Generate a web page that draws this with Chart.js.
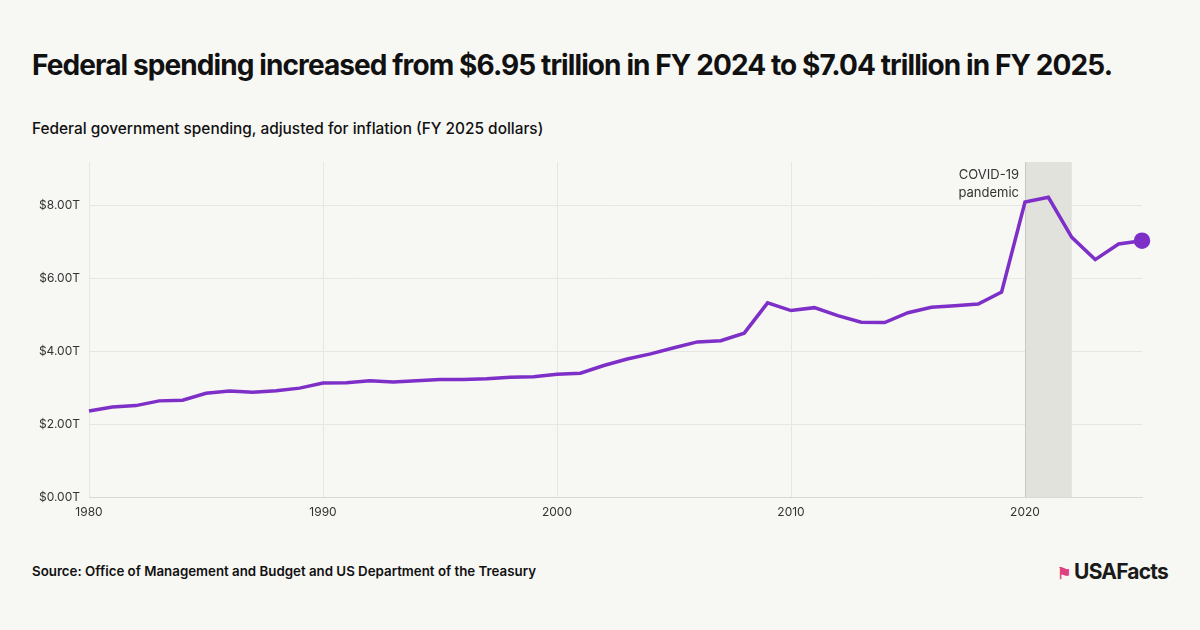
<!DOCTYPE html>
<html>
<head>
<meta charset="utf-8">
<script src="https://cdn.jsdelivr.net/npm/chart.js@4"></script>
<style>
  body { margin: 0; background: #f7f7f4; font-family: Inter, sans-serif; }
  #wrap { position: relative; width: 1200px; height: 630px; }
  h1 { position: absolute; left: 32px; top: 48px; margin: 0; font-size: 28px; font-weight: 700; letter-spacing: -0.9px; color: #111; }
  .sub { position: absolute; left: 32px; top: 119px; font-size: 15.4px; font-weight: 500; color: #111; }
  .src { position: absolute; left: 32px; top: 563px; font-size: 13.3px; font-weight: 600; color: #111; }
  .logo { position: absolute; right: 32px; top: 559px; font-size: 21px; font-weight: 700; letter-spacing: -0.8px; color: #1a1a1a; }
  .logo span { color: #e0407f; font-size: 16px; margin-right: 4px; }
  canvas { position: absolute; left: 0; top: 0; }
</style>
</head>
<body>
<div id="wrap">
  <h1>Federal spending increased from $6.95 trillion in FY 2024 to $7.04 trillion in FY 2025.</h1>
  <div class="sub">Federal government spending, adjusted for inflation (FY 2025 dollars)</div>
  <div class="src">Source: Office of Management and Budget and US Department of the Treasury</div>
  <div class="logo"><span>&#9873;</span>USAFacts</div>
  <canvas id="c" width="1200" height="630"></canvas>
</div>
<script>
const years = [];
for (let y = 1980; y <= 2025; y++) years.push(y);
const spending = [2.36, 2.47, 2.51, 2.64, 2.66, 2.85, 2.91, 2.88, 2.92, 2.99,
  3.13, 3.14, 3.19, 3.16, 3.19, 3.23, 3.23, 3.25, 3.29, 3.30,
  3.37, 3.40, 3.61, 3.79, 3.93, 4.10, 4.26, 4.29, 4.50, 5.33,
  5.12, 5.20, 4.98, 4.80, 4.79, 5.06, 5.21, 5.25, 5.30, 5.63,
  8.10, 8.23, 7.13, 6.52, 6.95, 7.04];
const xTicks = [1980, 1990, 2000, 2010, 2020];
const covidSpan = [2020, 2022];

const shade = {
  id: 'shade',
  beforeDatasetsDraw(chart) {
    const { ctx, chartArea, scales } = chart;
    const x0 = scales.x.getPixelForValue(covidSpan[0]);
    const x1 = scales.x.getPixelForValue(covidSpan[1]);
    ctx.save();
    ctx.fillStyle = '#e2e2dd';
    ctx.fillRect(x0, chartArea.top, x1 - x0, chartArea.bottom - chartArea.top);
    ctx.strokeStyle = '#c9c9c4';
    ctx.lineWidth = 1;
    ctx.beginPath();
    ctx.moveTo(x0 + 0.5, chartArea.top);
    ctx.lineTo(x0 + 0.5, chartArea.bottom);
    ctx.stroke();
    ctx.fillStyle = '#333';
    ctx.font = '13px Inter, sans-serif';
    ctx.textAlign = 'right';
    ctx.fillText('COVID-19', x0 - 6, chartArea.top + 17);
    ctx.fillText('pandemic', x0 - 6, chartArea.top + 35);
    ctx.restore();
  }
};

new Chart(document.getElementById('c'), {
  type: 'line',
  data: {
    labels: years,
    datasets: [{
      data: spending,
      borderColor: '#7e2fc8',
      backgroundColor: '#7e2fc8',
      borderWidth: 3.5,
      tension: 0,
      clip: false,
      pointRadius: ctx => ctx.dataIndex === spending.length - 1 ? 6.5 : 0,
      pointHoverRadius: 6
    }]
  },
  options: {
    responsive: false,
    animation: false,
    layout: { padding: { top: 162, right: 58, left: 0, bottom: 0 } },
    plugins: { legend: { display: false }, tooltip: { enabled: false } },
    scales: {
      x: {
        type: 'linear',
        min: 1980, max: 2025,
        afterFit: s => { s.height = 133; },
        afterBuildTicks: s => { s.ticks = xTicks.map(v => ({ value: v })); },
        ticks: { color: '#333', font: { size: 12, family: 'Inter, sans-serif' }, padding: 8, maxRotation: 0, callback: v => String(v) },
        grid: { color: '#e6e6e3', drawTicks: false },
        border: { color: '#d8d8d4' }
      },
      y: {
        min: 0, max: 9.2,
        afterFit: s => { s.width = 89; },
        afterBuildTicks: s => { s.ticks = [0, 2, 4, 6, 8].map(v => ({ value: v })); },
        ticks: { color: '#333', font: { size: 12, family: 'Inter, sans-serif' }, padding: 9, callback: v => '$' + v.toFixed(2) + 'T' },
        grid: { color: '#e6e6e3', drawTicks: false },
        border: { display: false }
      }
    }
  },
  plugins: [shade]
});
</script>
</body>
</html>
